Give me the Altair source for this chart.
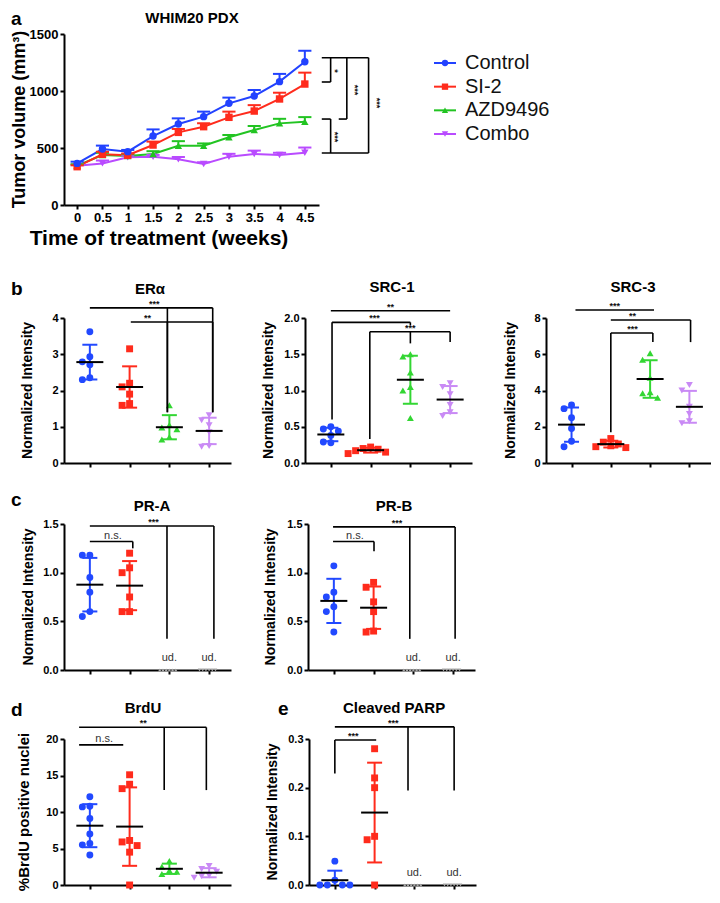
import math
import altair as alt
import pandas as pd

FONT = "Liberation Sans"
GROUPS = ["Control", "SI-2", "AZD9496", "Combo"]
SHAPES = ["circle", "square", "triangle-up", "triangle-down"]
COL_A = ["#2242ff", "#ff2b1c", "#22c422", "#b94bff"]
COL_B = ["#2249ff", "#ff2b1c", "#33d633", "#c98af5"]

# ---------------- panel a : tumour volume (mean, SEM) ----------------
WEEKS = [0, 0.5, 1, 1.5, 2, 2.5, 3, 3.5, 4, 4.5]
VOL_CONTROL = [365, 491, 468, 605, 710, 775, 892, 956, 1082, 1257]
SEM_CONTROL = [15, 30, 15, 58, 50, 44, 50, 53, 68, 96]
VOL_SI2 = [336, 445, 436, 526, 637, 687, 769, 824, 930, 1061]
SEM_SI2 = [12, 22, 15, 30, 30, 30, 50, 52, 55, 100]
VOL_AZD = [345, 438, 430, 447, 520, 520, 594, 658, 716, 731]
SEM_AZD = [12, 20, 15, 25, 40, 20, 20, 35, 40, 40]
VOL_COMBO = [345, 365, 418, 424, 401, 360, 424, 447, 438, 459]
SEM_COMBO = [10, 25, 15, 15, 20, 15, 25, 30, 20, 45]

# ---------------- panels b-e : individual values ----------------
ERA = {"Control": [3.62, 2.93, 2.79, 2.71, 2.30, 2.35],
       "SI-2": [3.15, 2.20, 2.10, 1.90, 1.64, 1.59],
       "AZD9496": [1.59, 1.05, 0.98, 0.93, 0.72, 0.65],
       "Combo": [1.32, 1.18, 1.04, 0.85, 0.47, 0.45]}
SRC1 = {"Control": [0.50, 0.47, 0.44, 0.38, 0.29, 0.28],
        "SI-2": [0.22, 0.20, 0.19, 0.17, 0.15, 0.13],
        "AZD9496": [1.50, 1.47, 1.25, 1.05, 1.00, 0.62],
        "Combo": [1.10, 1.05, 0.95, 0.80, 0.70, 0.65]}
SRC3 = {"Control": [3.2, 3.0, 2.5, 1.9, 1.2, 0.9],
        "SI-2": [1.35, 1.15, 1.05, 0.95, 0.85, 0.90],
        "AZD9496": [6.05, 5.70, 4.70, 3.90, 3.85, 3.60],
        "Combo": [4.3, 4.0, 3.1, 2.7, 2.2, 2.3]}
PRA = {"Control": [1.18, 1.18, 0.95, 0.80, 0.60, 0.55],
       "SI-2": [1.20, 1.05, 1.00, 0.75, 0.60, 0.60],
       "AZD9496": [0, 0, 0, 0, 0, 0],
       "Combo": [0, 0, 0, 0, 0, 0]}
PRB = {"Control": [1.07, 0.80, 0.75, 0.65, 0.60, 0.39],
       "SI-2": [0.90, 0.85, 0.70, 0.60, 0.40, 0.39],
       "AZD9496": [0, 0, 0, 0, 0, 0],
       "Combo": [0, 0, 0, 0, 0, 0]}
BRDU = {"Control": [12.1, 10.8, 10.7, 9.1, 7.0, 5.7, 5.5, 4.1],
        "SI-2": [15.1, 13.8, 13.2, 6.1, 5.9, 5.4, 4.5, 0.0],
        "AZD9496": [3.3, 2.5, 2.0, 1.8, 1.5],
        "Combo": [2.6, 2.2, 1.8, 1.3, 1.0, 1.2]}
PARP = {"Control": [0.049, 0.010, 0.0, 0.0, 0.0, 0.0],
        "SI-2": [0.28, 0.22, 0.20, 0.10, 0.093, 0.0],
        "AZD9496": [0, 0, 0, 0, 0, 0],
        "Combo": [0, 0, 0, 0, 0, 0]}
UD = ["AZD9496", "Combo"]


def mean_sd(v):
    m = sum(v) / len(v)
    return m, math.sqrt(sum((x - m) ** 2 for x in v) / (len(v) - 1))


def swarm(vals, px_per_unit, dot):
    placed, res = [], [0.0] * len(vals)
    for i in sorted(range(len(vals)), key=lambda k: -vals[k]):
        yv = vals[i] * px_per_unit
        for k in (0, -1, 1, -2, 2, -3, 3, -4, 4):
            xo = k * dot
            if all((xo - a) ** 2 + (yv - b) ** 2 >= (dot * 0.9) ** 2 for a, b in placed):
                break
        placed.append((xo, yv))
        res[i] = xo
    return res


def txt(label, x, y, size, weight="bold", align="center", baseline="alphabetic", angle=0, color="black"):
    return alt.Chart(pd.DataFrame({"t": [label]})).mark_text(
        font=FONT, fontSize=size, fontWeight=weight, align=align, baseline=baseline,
        angle=angle, color=color).encode(x=alt.value(x), y=alt.value(y), text="t:N")


COLOR_ID = alt.Color("col:N", scale=None)
SHAPE_ID = alt.Shape("shp:N", scale=None)

# ---------------- panel a ----------------
W_A, H_A = 255, 171
xs_a = alt.Scale(domain=[-0.26, 4.78], nice=False, zero=False)
ys_a = alt.Scale(domain=[0, 1500], nice=False)
xax_a = alt.Axis(values=WEEKS, format="~g", title=None, labelFontSize=13, grid=False)
yax_a = alt.Axis(values=[0, 500, 1000, 1500], format="d", title=None, labelFontSize=13, grid=False)

rows = []
for g, c, s, mv, sv in zip(GROUPS, COL_A, SHAPES,
                           [VOL_CONTROL, VOL_SI2, VOL_AZD, VOL_COMBO],
                           [SEM_CONTROL, SEM_SI2, SEM_AZD, SEM_COMBO]):
    for w, m, e in zip(WEEKS, mv, sv):
        rows.append(dict(group=g, col=c, shp=s, week=w, mean=m, hi=m + e, cl=w - 0.13, cr=w + 0.13))
df_a = pd.DataFrame(rows)
order = {g: i for i, g in enumerate(GROUPS[::-1])}
df_a["o"] = df_a["group"].map(order)
df_a = df_a.sort_values(["o", "week"])

XA = lambda f: alt.X(f, type="quantitative", scale=xs_a, axis=xax_a)
YA = lambda f: alt.Y(f, type="quantitative", scale=ys_a, axis=yax_a)
base_a = alt.Chart(df_a)
lines_a = base_a.mark_line(strokeWidth=2).encode(x=XA("week"), y=YA("mean"), color=COLOR_ID, detail="group:N")
err_a = base_a.mark_rule(strokeWidth=2).encode(x=XA("week"), y=YA("mean"), y2="hi:Q", color=COLOR_ID)
cap_a = base_a.mark_rule(strokeWidth=2).encode(x=XA("cl"), x2="cr:Q", y=YA("hi"), color=COLOR_ID)
pts_a = base_a.mark_point(filled=True, size=55, opacity=1).encode(
    x=XA("week"), y=YA("mean"), color=COLOR_ID, shape=SHAPE_ID)

segs_a = pd.DataFrame([
    dict(x=4.835, x2=5.76, y=1292, y2=1292),
    dict(x=5.01, x2=5.01, y=1292, y2=1079),
    dict(x=4.835, x2=5.01, y=1079, y2=1079),
    dict(x=5.33, x2=5.33, y=1292, y2=754),
    dict(x=5.17, x2=5.33, y=754, y2=754),
    dict(x=5.76, x2=5.76, y=1292, y2=456),
    dict(x=4.835, x2=5.76, y=456, y2=456),
    dict(x=4.835, x2=5.01, y=754, y2=754),
    dict(x=5.01, x2=5.01, y=754, y2=456),
])
br_a = alt.Chart(segs_a).mark_rule(color="black", strokeWidth=1.6).encode(
    x=XA("x"), x2="x2:Q", y=YA("y"), y2="y2:Q")
stars_a = alt.Chart(pd.DataFrame([
    dict(x=5.10, y=1175, t="*"), dict(x=5.50, y=1009, t="***"),
    dict(x=5.93, y=895, t="***"), dict(x=5.10, y=596, t="***")])).mark_text(
    angle=90, fontSize=9, fontWeight="bold", font=FONT, baseline="middle", align="center", color="#111").encode(
    x=XA("x"), y=YA("y"), text="t:N")

panel_a = alt.layer(
    lines_a, err_a, cap_a, pts_a, br_a, stars_a,
    txt("WHIM20 PDX", 128, -11, 15),
    txt("a", -53, -9, 19, align="left"),
    txt("Tumor volume (mm³)", -44, H_A / 2, 18, angle=270, baseline="middle"),
    txt("Time of treatment (weeks)", 95, H_A + 40, 21),
).properties(width=W_A, height=H_A)

leg_df = pd.DataFrame({"group": GROUPS, "col": COL_A, "shp": SHAPES})
ly = alt.Y("group:N", scale=alt.Scale(type="point", domain=GROUPS, range=[29, 100], padding=0), axis=None)
leg = alt.layer(
    alt.Chart(leg_df).mark_rule(strokeWidth=2).encode(x=alt.value(15), x2=alt.value(37), y=ly, color=COLOR_ID),
    alt.Chart(leg_df).mark_point(filled=True, size=40, opacity=1).encode(x=alt.value(26), y=ly, color=COLOR_ID, shape=SHAPE_ID),
    alt.Chart(leg_df).mark_text(align="left", baseline="middle", fontSize=20, font=FONT, color="#111").encode(
        x=alt.value(46), y=ly, text="group:N"),
).properties(width=150, height=H_A)


# ---------------- dot-plot panels ----------------
def dot_panel(data, ymax, yticks, yfmt, w, h, brackets, title, tpos, ytitle, ytx, ysize=14,
              letter=None, lpos=None, ud=()):
    xs = alt.Scale(domain=[0.35, 4.55], nice=False, zero=False)
    ys = alt.Scale(domain=[0, ymax], nice=False, zero=False)
    xax = alt.Axis(values=[1, 2, 3, 4], labels=False, title=None, grid=False)
    yax = alt.Axis(values=yticks, format=yfmt, title=None, grid=False)
    X = lambda f: alt.X(f, type="quantitative", scale=xs, axis=xax)
    Y = lambda f: alt.Y(f, type="quantitative", scale=ys, axis=yax)
    pxx, pxy = w / 4.2, h / ymax
    pts, udp, st, caps = [], [], [], []
    for gi, (g, c, s) in enumerate(zip(GROUPS, COL_B, SHAPES)):
        vals, pos = data[g], gi + 1
        if g in ud:
            for v, o in zip(vals, swarm(vals, pxy, 3.2)):
                udp.append(dict(x=pos + o / pxx, v=v, col="#a8a8a8", shp=s))
            continue
        for v, o in zip(vals, swarm(vals, pxy, 7.5)):
            pts.append(dict(x=pos + o / pxx, v=v, col=c, shp=s))
        m, sd = mean_sd(vals)
        lo, hi = max(m - sd, 0), m + sd
        st.append(dict(x=pos, m=m, lo=lo, hi=hi, col=c, ml=pos - 13.5 / pxx, mr=pos + 13.5 / pxx))
        caps.append(dict(cl=pos - 7.5 / pxx, cr=pos + 7.5 / pxx, y=hi, col=c))
        if lo > 0:
            caps.append(dict(cl=pos - 7.5 / pxx, cr=pos + 7.5 / pxx, y=lo, col=c))
    layers = [alt.Chart(pd.DataFrame(pts)).mark_point(filled=True, size=48, opacity=1).encode(
        x=X("x"), y=Y("v"), color=COLOR_ID, shape=SHAPE_ID)]
    if udp:
        layers.append(alt.Chart(pd.DataFrame(udp)).mark_point(filled=True, size=12, opacity=1).encode(
            x=X("x"), y=Y("v"), color=COLOR_ID, shape=SHAPE_ID))
    dst = pd.DataFrame(st)
    layers.append(alt.Chart(dst).mark_rule(strokeWidth=2).encode(x=X("x"), y=Y("lo"), y2="hi:Q", color=COLOR_ID))
    layers.append(alt.Chart(pd.DataFrame(caps)).mark_rule(strokeWidth=2).encode(
        x=X("cl"), x2="cr:Q", y=Y("y"), color=COLOR_ID))
    layers.append(alt.Chart(dst).mark_rule(strokeWidth=2, color="black").encode(x=X("ml"), x2="mr:Q", y=Y("m")))
    segs, labs = [], []
    for b in brackets:
        segs.append(dict(x=b["x1"], x2=b["x2"], y=b["y"], y2=b["y"]))
        for dx, dy in b.get("drops", []):
            segs.append(dict(x=dx, x2=dx, y=b["y"], y2=dy))
        labs.append(dict(x=b["tx"], y=b["y"], t=b["t"]))
    layers.append(alt.Chart(pd.DataFrame(segs)).mark_rule(color="black", strokeWidth=1.6).encode(
        x=X("x"), x2="x2:Q", y=Y("y"), y2="y2:Q"))
    dl = pd.DataFrame(labs)
    stars = dl[dl["t"] != "n.s."]
    ns = dl[dl["t"] == "n.s."]
    if len(stars):
        layers.append(alt.Chart(stars).mark_text(fontSize=9, fontWeight="bold", font=FONT, dy=-1,
                                                 baseline="alphabetic", color="#111").encode(
            x=X("x"), y=Y("y"), text="t:N"))
    if len(ns):
        layers.append(alt.Chart(ns).mark_text(fontSize=11, font=FONT, dy=-3, baseline="alphabetic",
                                              color="#333").encode(x=X("x"), y=Y("y"), text="t:N"))
    if ud:
        udt = pd.DataFrame([dict(x=GROUPS.index(g) + 1, y=0, t="ud.") for g in ud])
        layers.append(alt.Chart(udt).mark_text(fontSize=11, font=FONT, dy=-9, baseline="alphabetic",
                                               color="#333").encode(x=X("x"), y=Y("y"), text="t:N"))
    layers.append(txt(title, tpos[0], tpos[1], 15))
    layers.append(txt(ytitle, ytx, h / 2, ysize, angle=270, baseline="middle"))
    if letter:
        layers.append(txt(letter, lpos[0], lpos[1], 19, align="left"))
    return alt.layer(*layers).properties(width=w, height=h)


p_era = dot_panel(ERA, 4, [0, 1, 2, 3, 4], "d", 167, 145, [
    dict(x1=1, x2=4.09, y=4.28, drops=[(2.95, 1.4), (4.09, 1.4)], t="***", tx=2.62),
    dict(x1=2.03, x2=4.09, y=3.89, drops=[(2.95, 1.4), (4.09, 1.4)], t="**", tx=2.45),
], "ERα", (86, -24), "Normalized Intensity", -36, letter="b", lpos=(-53, -23))

p_src1 = dot_panel(SRC1, 2, [0, 0.5, 1, 1.5, 2], ".1f", 167, 145, [
    dict(x1=1, x2=4, y=2.10, drops=[], t="**", tx=2.5),
    dict(x1=1.03, x2=3.0, y=1.94, drops=[(1.03, 0.6), (3.0, 1.90)], t="***", tx=2.1),
    dict(x1=1.98, x2=4.0, y=1.81, drops=[(1.98, 0.33), (3.0, 1.65), (4.0, 1.67)], t="***", tx=3.0),
], "SRC-1", (87, -26), "Normalized Intensity", -36)

p_src3 = dot_panel(SRC3, 8, [0, 2, 4, 6, 8], "d", 165, 145, [
    dict(x1=1.1, x2=3.1, y=8.44, drops=[], t="***", tx=2.1),
    dict(x1=2.0, x2=4.03, y=7.89, drops=[(4.03, 6.67)], t="**", tx=2.55),
    dict(x1=2.0, x2=3.07, y=7.17, drops=[(2.0, 1.7), (3.07, 6.67)], t="***", tx=2.55),
], "SRC-3", (87, -26), "Normalized Intensity", -35)

p_pra = dot_panel(PRA, 1.5, [0, 0.5, 1, 1.5], ".1f", 167, 146, [
    dict(x1=1, x2=4.12, y=1.48, drops=[(2.94, 0.32), (4.12, 0.32)], t="***", tx=2.6),
    dict(x1=1, x2=2.08, y=1.32, drops=[(2.08, 1.25)], t="n.s.", tx=1.58),
], "PR-A", (88, -13), "Normalized Intensity", -35, letter="c", lpos=(-53, -18), ud=UD)

p_prb = dot_panel(PRB, 1.5, [0, 0.5, 1, 1.5], ".1f", 167, 146, [
    dict(x1=0.98, x2=4.05, y=1.47, drops=[(2.91, 0.32), (4.05, 0.32)], t="***", tx=2.59),
    dict(x1=0.98, x2=2.01, y=1.32, drops=[(2.01, 1.22)], t="n.s.", tx=1.53),
], "PR-B", (86, -13), "Normalized Intensity", -37, ud=UD)

p_brdu = dot_panel(BRDU, 20, [0, 5, 10, 15, 20], "d", 167, 146, [
    dict(x1=0.73, x2=3.93, y=21.6, drops=[(2.87, 13.0), (3.93, 13.0)], t="**", tx=2.34),
    dict(x1=0.73, x2=1.84, y=19.2, drops=[], t="n.s.", tx=1.36),
], "BrdU", (79, -26), "%BrdU positive nuclei", -40, ysize=15, letter="d", lpos=(-53, -23))

p_parp = dot_panel(PARP, 0.3, [0, 0.1, 0.2, 0.3], ".1f", 167, 146, [
    dict(x1=1, x2=4.0, y=0.325, drops=[(2.84, 0.194), (4.0, 0.194)], t="***", tx=2.47),
    dict(x1=1, x2=2.04, y=0.298, drops=[(1, 0.229)], t="***", tx=1.46),
], "Cleaved PARP", (85, -26), "Normalized Intensity", -36, letter="e", lpos=(-31, -24), ud=UD)

row_a = alt.hconcat(panel_a, leg, spacing=100, bounds="flush")
row_b = alt.hconcat(p_era, p_src1, p_src3, spacing=74, bounds="flush")
row_c = alt.hconcat(p_pra, p_prb, spacing=77, bounds="flush")
row_d = alt.hconcat(p_brdu, p_parp, spacing=78, bounds="flush")

# nested concat groups count as zero-height in flush layout: spacing = top-to-top distance
lower = alt.vconcat(row_b, alt.vconcat(row_c, row_d, spacing=215, bounds="flush"), spacing=206, bounds="flush")
chart = alt.vconcat(row_a, lower, spacing=284, bounds="flush").properties(
    padding={"left": 2, "top": 2, "right": 0, "bottom": 0}
).configure_view(stroke=None).configure_axis(
    domainColor="black", domainWidth=2, tickColor="black", tickWidth=2, tickSize=4,
    labelColor="black", labelFont=FONT, labelFontWeight="bold", labelFontSize=11,
    labelPadding=2, grid=False)

chart.save("out.html", embed_options={"renderer": "svg", "actions": False})
